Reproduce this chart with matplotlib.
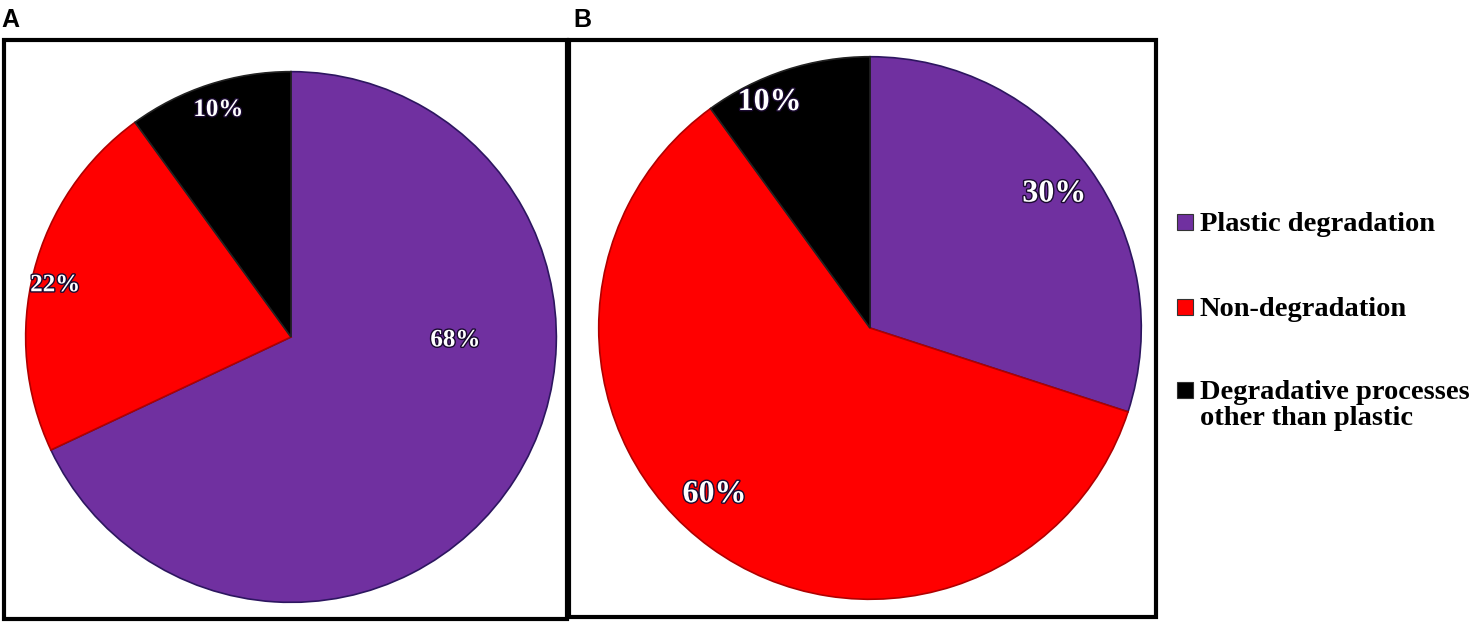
import matplotlib
matplotlib.use('Agg')
import numpy as np
import matplotlib.pyplot as plt
import matplotlib.patheffects as pe
from matplotlib.patches import Rectangle

categories = ['Plastic degradation', 'Non-degradation',
              'Degradative processes\nother than plastic']
colors = ['#7030A0', '#FF0000', '#000000']
edges = ['#2d1660', '#b00000', '#222222']

vals_a = [68, 22, 10]
vals_b = [30, 60, 10]

# label placement (fraction of radius, angle in deg) for each wedge
lab_a = [(0.62, -1), (0.91, 167.5), (0.90, 107.7)]
lab_b = [(0.84, 36), (0.84, 227), (0.91, 114)]

W, H = 1476, 625
fig = plt.figure(figsize=(W / 100, H / 100), dpi=100)

serif = 'Liberation Serif'
sans = 'Liberation Sans'


def px_axes(cx, cy, r):
    return fig.add_axes([(cx - r) / W, (H - cy - r) / H, 2 * r / W, 2 * r / H])


def draw_pie(ax, vals, labs, fs):
    wedges, _ = ax.pie(vals, colors=colors, startangle=90, counterclock=False,
                       radius=1, wedgeprops=dict(linewidth=1.2))
    for w, ec in zip(wedges, edges):
        w.set_edgecolor(ec)
    for v, (r, ang) in zip(vals, labs):
        t = np.deg2rad(ang)
        ax.text(r * np.cos(t), r * np.sin(t), f'{v}%', ha='center', va='center',
                color='white', fontsize=fs, fontweight='bold', family=serif,
                path_effects=[pe.withStroke(linewidth=2, foreground='#1a0a30')])
    ax.set_xlim(-1.01, 1.01)
    ax.set_ylim(-1.01, 1.01)
    ax.set_aspect('equal')
    ax.axis('off')


ax1 = px_axes(291, 337, 268)
draw_pie(ax1, vals_a, lab_a, 18)
ax2 = px_axes(870, 328, 274)
draw_pie(ax2, vals_b, lab_b, 23)

# panel boxes
for x0, y0, x1, y1 in [(4, 40, 567, 619), (569, 40, 1156, 617)]:
    fig.add_artist(Rectangle((x0 / W, 1 - y1 / H), (x1 - x0) / W, (y1 - y0) / H,
                             transform=fig.transFigure, fill=False,
                             edgecolor='black', linewidth=3))

fig.text(1 / W, 1 - 20 / H, 'A', fontsize=18, fontweight='bold', family=sans,
         ha='left', va='center')
fig.text(573 / W, 1 - 20 / H, 'B', fontsize=18, fontweight='bold', family=sans,
         ha='left', va='center')

# legend
rows = [222, 307, 390]
for lab, c, y in zip(categories, colors, rows):
    fig.add_artist(Rectangle((1177 / W, 1 - (y + 8) / H), 16 / W, 16 / H,
                             transform=fig.transFigure, facecolor=c,
                             edgecolor='#333333', linewidth=0.8))
    fig.text(1200 / W, 1 - (y - 10) / H, lab, fontsize=20.5, fontweight='bold',
             family=serif, ha='left', va='top', linespacing=1.05)

fig.savefig('out.png', dpi=100)
